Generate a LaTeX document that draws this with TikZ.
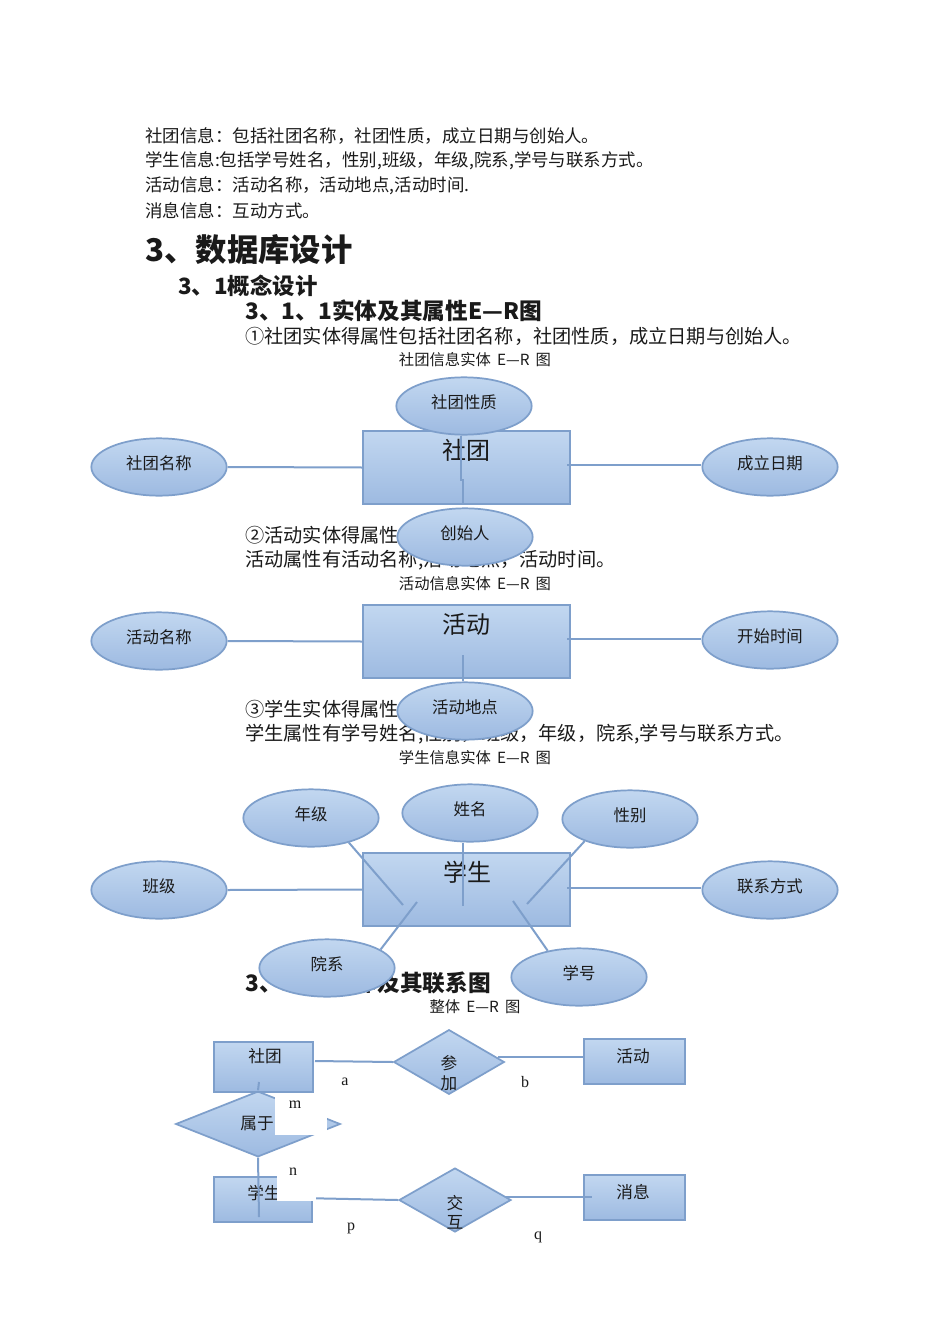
\documentclass[tikz,border=0pt]{standalone}
\usepackage{fontspec}
\setmainfont{Noto Sans CJK SC}
\newfontfamily\serifl{Liberation Serif}
\usetikzlibrary{shapes.geometric}
\newcommand\myfs[1]{\fontsize{#1}{#1}\selectfont}
\newcommand\er{\hspace{0.4em}E—R\hspace{0.4em}}
\definecolor{edgec}{HTML}{7E9FCB}
\definecolor{topc}{HTML}{C2D7F0}
\definecolor{botc}{HTML}{9DBAE1}
\definecolor{inkc}{HTML}{1A1A1A}
\tikzset{
  attr/.style={ellipse, draw=edgec, line width=1.3pt, top color=topc, bottom color=botc,
    minimum width=101.5pt, minimum height=43pt, inner sep=0pt, font=\myfs{12.3},
    text=inkc, text height=8pt, text depth=4.8pt},
  ent/.style={rectangle, draw=edgec, line width=1.6pt, top color=topc, bottom color=botc, inner sep=0pt},
  rel/.style={diamond, draw=edgec, line width=1.3pt, top color=topc, bottom color=botc, inner sep=0pt},
  conn/.style={draw=edgec, line width=1.5pt},
  txt/.style={inner sep=0pt, anchor=west, text=inkc},
  capt/.style={inner sep=0pt, font=\myfs{11.5}, text=inkc},
  bigname/.style={inner sep=0pt, font=\myfs{18}, text=inkc},
  smallname/.style={inner sep=0pt, font=\myfs{12.5}, text=inkc, align=center},
  lbl/.style={inner sep=0pt, font=\serifl\myfs{12}, text=inkc},
  mask/.style={fill=white, draw=none, inner sep=0pt, anchor=north west},
}
\begin{document}
\begin{tikzpicture}[x=0.75pt, y=-0.75pt]
\useasboundingbox (0,0) rectangle (950,1344);
\fill[white] (0,0) rectangle (950,1344);

% ---------- body text ----------
\node[txt, font=\myfs{13.1}] (l1) at (145,136) {社团信息：包括社团名称，社团性质，成立日期与创始人。};
\node[txt, font=\myfs{13.1}] (l2) at (145,161) {学生信息:包括学号姓名，性别,班级，年级,院系,学号与联系方式。};
\node[txt, font=\myfs{13.1}] (l3) at (145,186) {活动信息：活动名称，活动地点,活动时间.};
\node[txt, font=\myfs{13.1}] (l4) at (145,211) {消息信息：互动方式。};
\node[txt, font=\bfseries\myfs{23.5}] (h1) at (145,250) {3、数据库设计};
\node[txt, font=\bfseries\myfs{16.8}] (h2) at (178,286) {3、1概念设计};
\node[txt, font=\bfseries\myfs{17}] (h3) at (245,311) {3、1、1实体及其属性E—R图};
\node[txt, font=\myfs{14.4}] (p1) at (245,336) {①社团实体得属性包括社团名称，社团性质，成立日期与创始人。};
\node[capt] (c1) at (475,360) {社团信息实体\er 图};
\node[txt, font=\myfs{14.4}] (p2) at (245,535) {②活动实体得属性};
\node[txt, font=\myfs{14.4}] (p3) at (245,560) {活动属性有活动名称,活动地点，活动时间。};
\node[capt] (c2) at (475,584) {活动信息实体\er 图};
\node[txt, font=\myfs{14.4}] (p4) at (245,709) {③学生实体得属性};
\node[txt, font=\myfs{14.4}] (p5) at (245,734) {学生属性有学号姓名,性别，班级，年级，院系,学号与联系方式。};
\node[capt] (c3) at (475,758) {学生信息实体\er 图};
\node[txt, font=\bfseries\myfs{17}] (h4) at (245,983) {3、1、2实体及其联系图};
\node[capt] (c4) at (475,1007) {整体\er 图};

% ---------- diagram 1: 社团 ----------
\node[ent, minimum width=155.5pt, minimum height=55pt] (st) at (466.5,467.5) {};
\node[bigname] (stt) at (466,450) {社团};
\coordinate (st-r) at (567,465);
\coordinate (st-j1) at (461,480);
\coordinate (st-j2) at (463,480);
\node[attr] (e1a) at (159,467) {社团名称};
\node[attr] (e1c) at (770,467) {成立日期};
\draw[conn] (e1a.east) -- (st.west);
\draw[conn] (st-r) -- (e1c.west |- st-r);
\node[attr] (e1b) at (464,406) {社团性质};
\draw[conn] (st-j1 |- e1b.south) -- (st-j1) -- (st-j2) -- (st-j2 |- st.south);
\node[attr] (e1d) at (465,537) {创始人};

% ---------- diagram 2: 活动 ----------
\node[ent, minimum width=155.5pt, minimum height=55pt] (hd) at (466.5,641.5) {};
\node[bigname] (hdt) at (466,624) {活动};
\coordinate (hd-r) at (567,639);
\coordinate (hd-v) at (463,655);
\node[attr] (e2a) at (159,641) {活动名称};
\node[attr] (e2c) at (770,640) {开始时间};
\draw[conn] (e2a.east) -- (hd.west);
\draw[conn] (hd-r) -- (e2c.west |- hd-r);
\node[attr] (e2d) at (465,711) {活动地点};
\draw[conn] (hd-v) -- (e2d.north -| hd-v);

% ---------- diagram 3: 学生 ----------
\node[ent, minimum width=155.5pt, minimum height=55pt] (xs) at (466.5,889.5) {};
\node[bigname] (xst) at (467,872) {学生};
\coordinate (xs-a) at (403,905);
\coordinate (xs-b) at (463,906);
\coordinate (xs-c) at (527,904);
\coordinate (xs-d) at (417,902);
\coordinate (xs-e) at (513,901);
\coordinate (xs-r) at (567,888);
\node[attr] (e3nj) at (311,818) {年级};
\node[attr] (e3xm) at (470,813) {姓名};
\node[attr] (e3xb) at (630,819) {性别};
\node[attr] (e3bj) at (159,890) {班级};
\node[attr] (e3lx) at (770,890) {联系方式};
\draw[conn] (e3nj.-33) -- (xs-a);
\draw[conn] (xs-b |- e3xm.south) -- (xs-b);
\draw[conn] (e3xb.-154) -- (xs-c);
\draw[conn] (e3bj.east) -- (xs.west);
\draw[conn] (xs-r) -- (e3lx.west |- xs-r);
\node[attr] (e3yx) at (327,968) {院系};
\node[attr] (e3xh) at (579,977) {学号};
\draw[conn] (e3yx.19) -- (xs-d);
\draw[conn] (e3xh.140) -- (xs-e);

% ---------- overall diagram ----------
\node[rel, minimum width=123.5pt, minimum height=49.25pt] (osy) at (258,1124) {};
\node[ent, minimum width=74.5pt, minimum height=38pt] (ost) at (263.5,1067) {};
\node[smallname] (ostt) at (265,1056) {社团};
\node[rel, minimum width=83pt, minimum height=48.5pt] (ocj) at (449,1062) {};
\node[smallname, align=center] (ocjt) at (449,1073) {参\\[2.5pt]加};
\node[ent, minimum width=76pt, minimum height=34pt] (ohd) at (634.5,1061.5) {};
\node[smallname] (ohdt) at (633,1056) {活动};
\node[smallname] (osyt) at (257,1124) {属于};
\node[ent, minimum width=74pt, minimum height=34pt] (oxs) at (263,1199.5) {};
\node[smallname] (oxst) at (264,1193) {学生};
\node[rel, minimum width=84pt, minimum height=48pt] (ojh) at (455,1200) {};
\node[smallname, align=center] (ojht) at (455,1212) {交\\[2pt]互};
\node[ent, minimum width=76pt, minimum height=34pt] (oxx) at (634.5,1197.5) {};
\node[smallname] (oxxt) at (633,1192) {消息};

\coordinate (oc0) at (315,1061);
\coordinate (oc1) at (498,1057);
\coordinate (os1) at (259,1082);
\coordinate (os2) at (259,1217);
\coordinate (os3) at (300,1198);
\coordinate (oj1) at (505,1197);
\coordinate (ox1) at (592,1197);
\draw[conn] (oc0) -- (ocj.west);
\draw[conn] (oc1) -- (ohd.west |- oc1);
\draw[conn] (os1) -- (osy.north);
\draw[conn] (osy.south) -- (os2);
\draw[conn] (os3) -- (ojh.west);
\draw[conn] (oj1) -- (ox1);

% white text boxes of the cardinality labels
\node[mask, minimum width=39pt, minimum height=29.5pt] (wm) at (275,1095) {};
\node[mask, minimum width=29.25pt, minimum height=30.75pt] (wn) at (277,1160) {};
\node[lbl] (la) at (345,1082) {a};
\node[lbl] (lb) at (525,1082) {b};
\node[lbl] (lm) at (295,1105) {m};
\node[lbl] (ln) at (293,1172) {n};
\node[lbl] (lp) at (351,1228) {p};
\node[lbl] (lq) at (538,1237) {q};
\end{tikzpicture}
\end{document}
